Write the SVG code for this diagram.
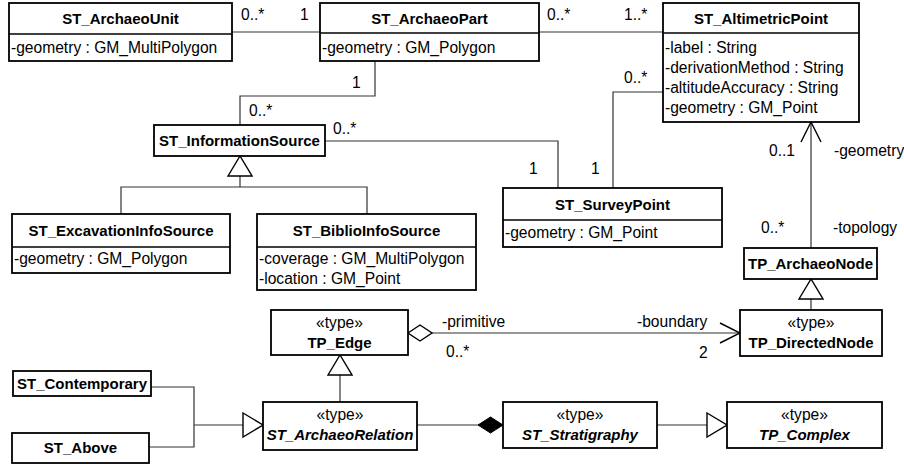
<svg xmlns="http://www.w3.org/2000/svg" width="904" height="466" viewBox="0 0 904 466">
  <style>
    .box { fill: #fff; stroke: #000; stroke-width: 1.8; }
    .sep { stroke: #000; stroke-width: 1.6; fill: none; }
    .ln { stroke: #333; stroke-width: 1.2; fill: none; }
    .hd { font-family: "Liberation Sans", Arial, sans-serif; font-weight: bold; font-size: 15px; text-anchor: middle; fill: #000; }
    .it { font-style: italic; }
    .st { font-family: "Liberation Sans", Arial, sans-serif; font-size: 15.6px; text-anchor: middle; fill: #000; }
    .at { font-family: "Liberation Sans", Arial, sans-serif; font-size: 15.6px; fill: #000; }
    .lb { font-family: "Liberation Sans", Arial, sans-serif; font-size: 15.6px; fill: #000; }
  </style>
  <defs>
    <marker id="gen" viewBox="0 0 22 26" refX="21" refY="13" markerWidth="22" markerHeight="26" markerUnits="userSpaceOnUse" orient="auto">
      <path d="M1,1 L21,13 L1,25 Z" fill="#fff" stroke="#000" stroke-width="1.4"/>
    </marker>
    <marker id="open" viewBox="0 0 22 22" refX="21" refY="11" markerWidth="22" markerHeight="22" markerUnits="userSpaceOnUse" orient="auto">
      <path d="M1,1 L21,11 L1,21" fill="none" stroke="#000" stroke-width="1.4"/>
    </marker>
    <marker id="agg" viewBox="0 0 28 18" refX="1" refY="9" markerWidth="28" markerHeight="18" markerUnits="userSpaceOnUse" orient="auto">
      <path d="M1,9 L13,1 L25,9 L13,17 Z" fill="#fff" stroke="#000" stroke-width="1.4"/>
    </marker>
    <marker id="comp" viewBox="0 0 28 18" refX="27" refY="9" markerWidth="28" markerHeight="18" markerUnits="userSpaceOnUse" orient="auto">
      <path d="M2,9 L14.5,1 L27,9 L14.5,17 Z" fill="#000" stroke="#000" stroke-width="1"/>
    </marker>
  </defs>

  <!-- connectors -->
  <g id="connectors">
    <!-- unit / part -->
    <line class="ln" x1="232" y1="32" x2="320" y2="32"/>
    <!-- part / altimetric point -->
    <line class="ln" x1="539" y1="32" x2="663" y2="32"/>
    <!-- part / information source -->
    <polyline class="ln" points="375,61 375,96 240,96 240,125"/>
    <!-- information source / survey point -->
    <polyline class="ln" points="325,141 558,141 558,188"/>
    <!-- altimetric point / survey point -->
    <polyline class="ln" points="663,92 613,92 613,188"/>
    <!-- archaeo node -> altimetric point -->
    <line class="ln" x1="811" y1="248" x2="811" y2="122" marker-end="url(#open)"/>
    <!-- information source specialisations -->
    <polyline class="ln" points="121,214 121,187 367,187 367,214"/>
    <line class="ln" x1="240" y1="187" x2="240" y2="156" marker-end="url(#gen)"/>
    <!-- directed node generalisation -->
    <line class="ln" x1="811" y1="310" x2="811" y2="279" marker-end="url(#gen)"/>
    <!-- edge / directed node -->
    <line class="ln" x1="408" y1="333" x2="740" y2="333" marker-start="url(#agg)" marker-end="url(#open)"/>
    <!-- archaeo relation generalisation -->
    <line class="ln" x1="340" y1="402" x2="340" y2="355" marker-end="url(#gen)"/>
    <!-- contemporary / above -> archaeo relation -->
    <polyline class="ln" points="151,387 194,387 194,447 149,447"/>
    <line class="ln" x1="194" y1="425" x2="263" y2="425" marker-end="url(#gen)"/>
    <!-- relation / stratigraphy composition -->
    <line class="ln" x1="417" y1="425" x2="503" y2="425" marker-end="url(#comp)"/>
    <!-- stratigraphy -> complex -->
    <line class="ln" x1="657" y1="425" x2="727" y2="425" marker-end="url(#gen)"/>

    <!-- multiplicities and role names -->
    <text class="lb" x="241" y="20">0..*</text>
    <text class="lb" x="300" y="20">1</text>
    <text class="lb" x="547" y="20">0..*</text>
    <text class="lb" x="624" y="20">1..*</text>
    <text class="lb" x="352" y="88">1</text>
    <text class="lb" x="249" y="116">0..*</text>
    <text class="lb" x="333" y="134">0..*</text>
    <text class="lb" x="624" y="83">0..*</text>
    <text class="lb" x="529" y="174">1</text>
    <text class="lb" x="591" y="174">1</text>
    <text class="lb" x="769" y="156">0..1</text>
    <text class="lb" x="834" y="156">-geometry</text>
    <text class="lb" x="761" y="233">0..*</text>
    <text class="lb" x="833" y="233">-topology</text>
    <text class="lb" x="442" y="327">-primitive</text>
    <text class="lb" x="637" y="327">-boundary</text>
    <text class="lb" x="446" y="357">0..*</text>
    <text class="lb" x="699" y="358">2</text>
  </g>

  <g id="ST_ArchaeoUnit">
    <rect class="box" x="9" y="3" width="223" height="58"/>
    <line class="sep" x1="9" y1="34" x2="232" y2="34"/>
    <text class="hd" x="120.5" y="24">ST_ArchaeoUnit</text>
    <text class="at" x="11" y="53">-geometry : GM_MultiPolygon</text>
  </g>

  <g id="ST_ArchaeoPart">
    <rect class="box" x="320" y="3" width="219" height="58"/>
    <line class="sep" x1="320" y1="33" x2="539" y2="33"/>
    <text class="hd" x="429.5" y="24">ST_ArchaeoPart</text>
    <text class="at" x="322" y="53">-geometry : GM_Polygon</text>
  </g>

  <g id="ST_AltimetricPoint">
    <rect class="box" x="663" y="3" width="196" height="119"/>
    <line class="sep" x1="663" y1="33" x2="859" y2="33"/>
    <text class="hd" x="761" y="24">ST_AltimetricPoint</text>
    <text class="at" x="665" y="53">-label : String</text>
    <text class="at" x="665" y="73">-derivationMethod : String</text>
    <text class="at" x="665" y="93">-altitudeAccuracy : String</text>
    <text class="at" x="665" y="113">-geometry : GM_Point</text>
  </g>

  <g id="ST_InformationSource">
    <rect class="box" x="154" y="125" width="171" height="31"/>
    <text class="hd" x="239.5" y="146">ST_InformationSource</text>
  </g>

  <g id="ST_SurveyPoint">
    <rect class="box" x="503" y="188" width="219" height="59"/>
    <line class="sep" x1="503" y1="220" x2="722" y2="220"/>
    <text class="hd" x="612.5" y="210">ST_SurveyPoint</text>
    <text class="at" x="505" y="238">-geometry : GM_Point</text>
  </g>

  <g id="ST_ExcavationInfoSource">
    <rect class="box" x="12" y="214" width="218" height="59"/>
    <line class="sep" x1="12" y1="247" x2="230" y2="247"/>
    <text class="hd" x="121" y="236">ST_ExcavationInfoSource</text>
    <text class="at" x="14" y="264">-geometry : GM_Polygon</text>
  </g>

  <g id="ST_BiblioInfoSource">
    <rect class="box" x="257" y="214" width="219" height="76"/>
    <line class="sep" x1="257" y1="247" x2="476" y2="247"/>
    <text class="hd" x="366.5" y="236">ST_BiblioInfoSource</text>
    <text class="at" x="259" y="264">-coverage : GM_MultiPolygon</text>
    <text class="at" x="259" y="284">-location : GM_Point</text>
  </g>

  <g id="TP_ArchaeoNode">
    <rect class="box" x="744" y="248" width="133" height="31"/>
    <text class="hd" x="810.5" y="269">TP_ArchaeoNode</text>
  </g>

  <g id="TP_Edge">
    <rect class="box" x="271" y="310" width="137" height="45"/>
    <text class="st" x="339.5" y="328">«type»</text>
    <text class="hd" x="339.5" y="348">TP_Edge</text>
  </g>

  <g id="TP_DirectedNode">
    <rect class="box" x="740" y="310" width="142" height="46"/>
    <text class="st" x="811" y="328">«type»</text>
    <text class="hd" x="811" y="348">TP_DirectedNode</text>
  </g>

  <g id="ST_Contemporary">
    <rect class="box" x="13" y="371" width="138" height="25"/>
    <text class="hd" x="82" y="389">ST_Contemporary</text>
  </g>

  <g id="ST_Above">
    <rect class="box" x="12" y="433" width="137" height="30"/>
    <text class="hd" x="80.5" y="453">ST_Above</text>
  </g>

  <g id="ST_ArchaeoRelation">
    <rect class="box" x="263" y="402" width="154" height="48"/>
    <text class="st" x="340" y="420">«type»</text>
    <text class="hd it" x="340" y="440">ST_ArchaeoRelation</text>
  </g>

  <g id="ST_Stratigraphy">
    <rect class="box" x="503" y="402" width="154" height="46"/>
    <text class="st" x="580" y="420">«type»</text>
    <text class="hd it" x="580" y="440">ST_Stratigraphy</text>
  </g>

  <g id="TP_Complex">
    <rect class="box" x="727" y="402" width="155" height="46"/>
    <text class="st" x="804.5" y="420">«type»</text>
    <text class="hd it" x="804.5" y="440">TP_Complex</text>
  </g>
</svg>
